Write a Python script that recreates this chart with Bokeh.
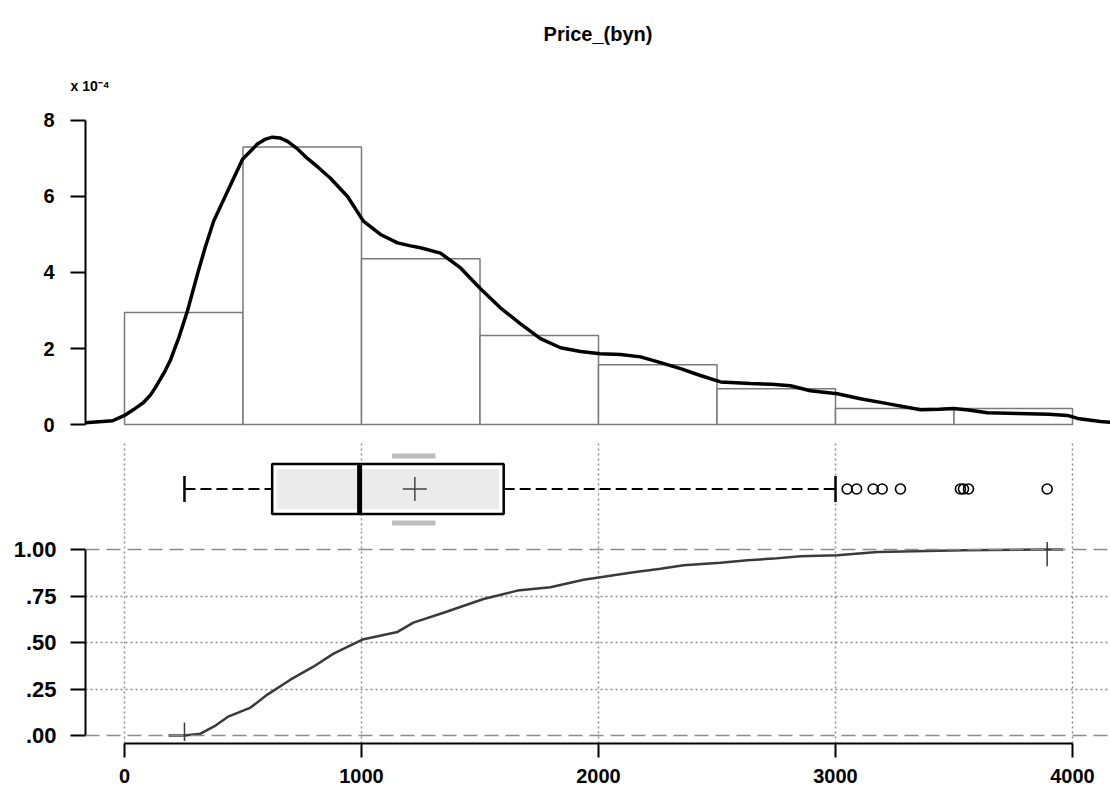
from bokeh.plotting import figure
from bokeh.layouts import column
from bokeh.models import FixedTicker, Range1d, Span, Title, CustomJSTickFormatter
from bokeh.embed import file_html
from bokeh.resources import INLINE

# ---------------- data ----------------
bin_left = [0, 500, 1000, 1500, 2000, 2500, 3000, 3500]
bin_right = [500, 1000, 1500, 2000, 2500, 3000, 3500, 4000]
hist_density_e4 = [2.95, 7.30, 4.36, 2.34, 1.57, 0.94, 0.42, 0.42]  # x 10^-4

kde_x = [-165, -50, 0, 40, 80, 110, 130, 150, 172, 194, 230, 266, 308, 340, 376,
         435, 498, 561, 592, 624, 656, 688, 730, 772, 820, 869, 941, 1008, 1080,
         1152, 1207, 1249, 1333, 1418, 1502, 1586, 1671, 1755, 1840, 1924, 2008,
         2093, 2177, 2262, 2346, 2430, 2515, 2641, 2730, 2810, 2894, 3008, 3105,
         3219, 3359, 3440, 3498, 3560, 3641, 3768, 3900, 3979, 4021, 4118, 4160]
kde_y = [0.05, 0.10, 0.24, 0.40, 0.58, 0.78, 0.97, 1.18, 1.42, 1.70, 2.30, 3.00,
         3.96, 4.65, 5.35, 6.14, 6.98, 7.38, 7.50, 7.56, 7.54, 7.45, 7.25, 7.00,
         6.75, 6.48, 6.00, 5.35, 5.00, 4.78, 4.70, 4.65, 4.51, 4.12, 3.57, 3.07,
         2.65, 2.26, 2.02, 1.92, 1.86, 1.84, 1.78, 1.63, 1.47, 1.29, 1.12, 1.08,
         1.06, 1.02, 0.89, 0.81, 0.68, 0.55, 0.39, 0.40, 0.42, 0.38, 0.31, 0.29,
         0.27, 0.24, 0.16, 0.08, 0.06]

ecdf_x = [186, 253, 321, 380, 435, 532, 603, 700, 797, 882, 1004, 1152, 1219, 1346,
          1515, 1658, 1797, 1937, 2008, 2148, 2262, 2359, 2515, 2629, 2738, 2852,
          3008, 3177, 3540, 3900, 3960]
ecdf_p = [0.0, 0.0, 0.01, 0.05, 0.10, 0.15, 0.22, 0.30, 0.37, 0.44, 0.516, 0.557,
          0.607, 0.66, 0.734, 0.779, 0.797, 0.837, 0.851, 0.878, 0.897, 0.915,
          0.929, 0.942, 0.951, 0.964, 0.969, 0.987, 0.996, 1.0, 1.0]

whisker_lo, q1, median, q3, whisker_hi = 253, 623, 992, 1600, 3000
mean_val = 1225
mean_ci = [1129, 1312]
outliers = [3049, 3089, 3159, 3197, 3274, 3527, 3540, 3561, 3893]

x_ticks = [0, 1000, 2000, 3000, 4000]
hist_ticks = [0, 2, 4, 6, 8]
ecdf_ticks = [0, 0.25, 0.5, 0.75, 1.0]

# ---------------- style ----------------
FONT = "Liberation Sans"
W = 1110
GRID = "#8c8c8c"
xr = Range1d(-164.6, 4160.3)

def base(p):
    p.outline_line_color = None
    p.background_fill_color = "white"
    p.border_fill_color = "white"

def style_axis(ax, size="22px", standoff=14, tick_out=15):
    ax.axis_line_width = 2
    ax.axis_line_color = "black"
    ax.major_tick_line_width = 2
    ax.major_tick_line_color = "black"
    ax.major_tick_out = tick_out
    ax.major_tick_in = 0
    ax.minor_tick_line_color = None
    ax.major_label_text_font = FONT
    ax.major_label_text_font_style = "bold"
    ax.major_label_text_font_size = size
    ax.major_label_text_color = "black"
    ax.major_label_standoff = standoff

# ---- histogram + density ----
p1 = figure(width=W, height=440, x_range=xr, y_range=Range1d(-0.157, 8.498),
            output_backend="svg", toolbar_location=None, x_axis_location=None,
            min_border_left=85, min_border_right=0, min_border_top=100,
            min_border_bottom=10, title=None)
base(p1)
p1.grid.visible = False
p1.quad(left=bin_left, right=bin_right, bottom=0, top=hist_density_e4,
        fill_color="white", line_color="#7a7a7a", line_width=1.5)
p1.line(kde_x, kde_y, line_color="black", line_width=3.5)
ya = p1.yaxis[0]
ya.ticker = FixedTicker(ticks=hist_ticks)
ya.bounds = (0, 8)
style_axis(ya, size="20px", standoff=16)
p1.add_layout(Title(text="x 10\u207b\u2074", align="left", offset=-15,
                    text_font=FONT, text_font_style="bold", text_font_size="14px",
                    text_color="black", standoff=15), "above")
p1.add_layout(Title(text="Price_(byn)", align="center", text_font=FONT,
                    text_font_style="bold", text_font_size="20px",
                    text_color="black", standoff=44, vertical_align="top"),
              "above")

# ---- box plot ----
p2 = figure(width=W, height=90, x_range=xr, y_range=Range1d(-41.5, 48.5),
            output_backend="svg", toolbar_location=None, x_axis_location=None,
            y_axis_location=None, min_border_left=85, min_border_right=0,
            min_border_top=0, min_border_bottom=0)
base(p2)
p2.ygrid.visible = False
p2.xgrid.ticker = FixedTicker(ticks=x_ticks)
p2.xgrid.grid_line_color = GRID
p2.xgrid.grid_line_dash = "2 3"
p2.xgrid.grid_line_width = 1.5
p2.segment(x0=[whisker_lo, q3], y0=[0, 0], x1=[q1, whisker_hi], y1=[0, 0],
           line_color="black", line_width=2, line_dash="11 5")
p2.segment(x0=[whisker_lo, whisker_hi], y0=[-13, -13], x1=[whisker_lo, whisker_hi],
           y1=[13, 13], line_color="black", line_width=2.5)
p2.segment(x0=[mean_ci[0], mean_ci[0]], y0=[33, -34], x1=[mean_ci[1], mean_ci[1]],
           y1=[33, -34], line_color="#bdbdbd", line_width=5)
p2.quad(left=[q1], right=[q3], bottom=[-25], top=[25], fill_color="white",
        line_color="black", line_width=2.5)
p2.quad(left=[q1 + 20], right=[q3 - 20], bottom=[-20], top=[20],
        fill_color="#ebebeb", line_color=None)
p2.segment(x0=[median], y0=[-25], x1=[median], y1=[25], line_color="black",
           line_width=5)
p2.scatter(x=[mean_val], y=[0], marker="cross", size=24, line_color="#444444",
           line_width=1.5)
p2.scatter(x=outliers, y=[0] * len(outliers), marker="circle", size=10,
           fill_color=None, line_color="black", line_width=1.6)

# ---- ECDF ----
p3 = figure(width=W, height=265, x_range=xr, y_range=Range1d(-0.043, 1.1022),
            output_backend="svg", toolbar_location=None,
            min_border_left=85, min_border_right=0, min_border_top=0,
            min_border_bottom=52)
base(p3)
p3.xgrid.ticker = FixedTicker(ticks=x_ticks)
p3.xgrid.grid_line_color = GRID
p3.xgrid.grid_line_dash = "2 3"
p3.xgrid.grid_line_width = 1.5
p3.ygrid.ticker = FixedTicker(ticks=[0.25, 0.5, 0.75])
p3.ygrid.grid_line_color = GRID
p3.ygrid.grid_line_dash = "2 3"
p3.ygrid.grid_line_width = 1.5
for v in (0.0, 1.0):
    p3.add_layout(Span(location=v, dimension="width", line_color=GRID,
                       line_dash="14 7", line_width=1.5))
p3.line(ecdf_x, ecdf_p, line_color="#3a3a3a", line_width=2.5)
p3.segment(x0=[whisker_lo, max(outliers)], y0=[-0.03, 0.91],
           x1=[whisker_lo, max(outliers)], y1=[0.07, 1.04],
           line_color="#3a3a3a", line_width=1.5)
xa = p3.xaxis[0]
xa.ticker = FixedTicker(ticks=x_ticks)
xa.bounds = (0, 4000)
style_axis(xa, size="20px", standoff=11, tick_out=14)
ya3 = p3.yaxis[0]
ya3.ticker = FixedTicker(ticks=ecdf_ticks)
ya3.bounds = (0, 1)
ya3.formatter = CustomJSTickFormatter(
    code="return tick >= 1 ? tick.toFixed(2) : tick.toFixed(2).slice(1);")
style_axis(ya3, size="22px", standoff=14)

layout = column(p1, p2, p3, spacing=0)
open("out.html", "w").write(file_html(layout, INLINE))
